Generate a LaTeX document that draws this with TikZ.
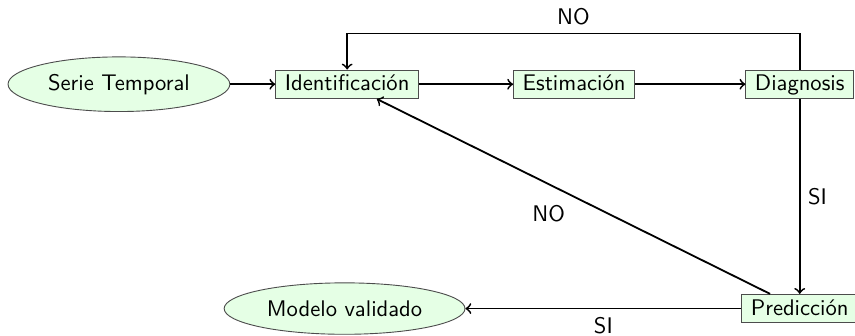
\documentclass[tikz,border=0pt]{standalone}
\usetikzlibrary{shapes.geometric}
\usetikzlibrary{arrows}
\renewcommand{\familydefault}{\sfdefault}
\tikzset{
paso/.style={ % Sets the properties for each step box
rectangle,
draw=black!70,
fill=green!10,
inner xsep=4pt,
inner ysep=2.2pt,
text height=1.6ex,
text depth=0.25ex},
extremo/.style={ % Start and end of the process
ellipse,
draw=black!70,
fill=green!10,
minimum width=3.45cm,
minimum height=0.85cm},
every edge/.style={ % Sets the properties for each transition
draw,
->,
auto,
thick}}

\begin{document}
\begin{tikzpicture}[font=\sffamily]
	\useasboundingbox (0,0) rectangle (13.30,-5.22);
	\node[extremo] (serie) at (1.85,-1.31) {Serie Temporal};
	\node[paso] (ident) at (5.40,-1.31) {Identificaci\'on};
	\node[paso] (estim) at (8.93,-1.31) {Estimaci\'on};
	\node[paso] (diag) at (12.44,-1.31) {Diagnosis};
	\node[paso] (pred) at (12.44,-4.80) {Predicci\'on};
	\node[extremo, minimum width=3.64cm, minimum height=0.8cm] (modelo) at (5.36,-4.80) {Modelo validado};
	\draw (serie) edge (ident);
	\draw (ident) edge (estim);
	\draw (estim) edge (diag);
	\draw[->, thick] (diag.north) -- ++(0,0.56) -| node[pos=0.25, above]{NO} (ident.north);
	\draw (diag) edge node{SI} (pred);
	\draw (pred) edge node{NO} (ident);
	\draw (pred) edge node{SI} (modelo);
\end{tikzpicture}
\end{document}
